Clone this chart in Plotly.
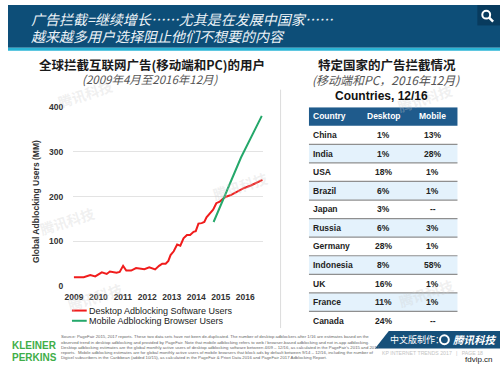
import plotly.graph_objects as go

W, H = 500, 372

# ---------------- data ----------------
desktop_years = [2009.00, 2009.40, 2009.67, 2009.87, 2010.14, 2010.34, 2010.47, 2010.74, 2010.87,
                 2011.01, 2011.14, 2011.34, 2011.54, 2011.74, 2011.88, 2012.08, 2012.21, 2012.32,
                 2012.48, 2012.61, 2012.75, 2012.86, 2012.95, 2013.08, 2013.22, 2013.35, 2013.48,
                 2013.62, 2013.75, 2013.89, 2013.98, 2014.09, 2014.22, 2014.33, 2014.42, 2014.56,
                 2014.69, 2014.82, 2014.96, 2015.09, 2015.22, 2015.43, 2015.69, 2015.96, 2016.23,
                 2016.50, 2016.71]
desktop_users = [20, 20, 25, 22, 31, 27.5, 33, 30, 32,
                 45.5, 35, 35, 40.5, 40, 38, 42, 40, 37.5,
                 45.5, 50.5, 50.5, 56.5, 69.5, 78, 93, 90.5, 107,
                 114.5, 114.5, 121.5, 123, 140, 141, 143.5, 154, 164,
                 171, 185.5, 189, 195.5, 200, 204, 212, 219.5, 225,
                 232, 237.5]
mobile_years = [2014.71, 2015.15, 2015.83, 2016.68]
mobile_users = [143.5, 200.5, 287.5, 380.5]
year_ticks = [2009, 2010, 2011, 2012, 2013, 2014, 2015, 2016]
user_ticks = [0, 100, 200, 300, 400]
series_names = ["Desktop Adblocking Software Users", "Mobile Adblocking Browser Users"]

table_header = ["Country", "Desktop", "Mobile"]
countries = ["China", "India", "USA", "Brazil", "Japan", "Russia", "Germany",
             "Indonesia", "UK", "France", "Canada"]
desktop_pct = ["1%", "1%", "18%", "6%", "3%", "6%", "28%", "8%", "16%", "11%", "24%"]
mobile_pct = ["13%", "28%", "1%", "1%", "--", "3%", "1%", "58%", "1%", "1%", "--"]

RED = "#f01c1c"
GREEN = "#25a86b"
CJK = "Noto Sans CJK SC"
SANS = "Liberation Sans, Arial, sans-serif"


def px(x):
    return x / W


def py(y):
    return 1 - y / H


fig = go.Figure()
fig.add_trace(go.Scatter(x=desktop_years, y=desktop_users, mode="lines", name=series_names[0],
                         line=dict(color=RED, width=2), xaxis="x", yaxis="y", showlegend=False))
fig.add_trace(go.Scatter(x=mobile_years, y=mobile_users, mode="lines", name=series_names[1],
                         line=dict(color=GREEN, width=2), xaxis="x", yaxis="y", showlegend=False))
# invisible anchor trace for the table axes
fig.add_trace(go.Scatter(x=[0.5], y=[0], mode="markers", marker=dict(opacity=0),
                         xaxis="x2", yaxis="y2", showlegend=False, hoverinfo="skip"))

shapes = []
ann = []

# ---------- header band ----------
shapes.append(dict(type="rect", xref="paper", yref="paper", x0=0, x1=1, y0=py(44), y1=1,
                   fillcolor="#0d4e78", line=dict(width=0), layer="below"))
shapes.append(dict(type="rect", xref="paper", yref="paper", x0=0, x1=1, y0=py(47), y1=py(44),
                   fillcolor="#2ab4d6", line=dict(width=0), layer="below"))
shapes.append(dict(type="rect", xref="paper", yref="paper", x0=px(477), x1=1, y0=py(21), y1=1,
                   fillcolor="#083b5e", line=dict(width=0)))
shapes.append(dict(type="circle", xref="paper", yref="paper", x0=px(482), x1=px(490),
                   y0=py(14), y1=py(6), line=dict(color="white", width=2)))
shapes.append(dict(type="line", xref="paper", yref="paper", x0=px(489), x1=px(493),
                   y0=py(13), y1=py(17), line=dict(color="white", width=2.5)))
ann.append(dict(text="广告拦截=继续增长……尤其是在发展中国家……", x=px(21), y=py(14),
                xanchor="left", yanchor="middle",
                font=dict(family=CJK, size=14, color="#eef3f7", style="italic")))
ann.append(dict(text="越来越多用户选择阻止他们不想要的内容", x=px(21), y=py(32),
                xanchor="left", yanchor="middle",
                font=dict(family=CJK, size=14, color="#eef3f7", style="italic")))

# ---------- faint watermarks ----------
for (wx, wy) in [(78, 91), (236, 186), (88, 300), (424, 96), (425, 296), (60, 222)]:
    ann.append(dict(text="腾讯科技", x=px(wx), y=py(wy), xanchor="center", yanchor="middle",
                    textangle=-18,
                    font=dict(family=CJK, size=14, color="rgba(205,205,205,0.3)", weight="bold")))

# ---------- left chart titles ----------
ann.append(dict(text="全球拦截互联网广告(移动端和PC)的用户", x=px(146), y=py(61.5),
                xanchor="center", yanchor="middle",
                font=dict(family=CJK, size=12.5, color="#1a1a1a", weight="bold")))
ann.append(dict(text="(2009年4月至2016年12月)", x=px(145), y=py(76.5),
                xanchor="center", yanchor="middle",
                font=dict(family=CJK, size=11.5, color="#555555", style="italic")))
ann.append(dict(text="Global Adblocking Users (MM)", x=px(28), y=py(202), textangle=-90,
                xanchor="center", yanchor="middle",
                font=dict(family=SANS, size=8.5, color="#333333", weight="bold")))

# legend
for i, (name, col) in enumerate(zip(series_names, [RED, GREEN])):
    yy = 314 + i * 10.5
    shapes.append(dict(type="line", xref="paper", yref="paper", x0=px(65), x1=px(80),
                       y0=py(yy), y1=py(yy), line=dict(color=col, width=2)))
    ann.append(dict(text=name, x=px(80.5), y=py(yy), xanchor="left", yanchor="middle",
                    font=dict(family=SANS, size=9, color="#1a1a1a")))

# divider
shapes.append(dict(type="line", xref="paper", yref="paper", x0=px(277), x1=px(277),
                   y0=py(87), y1=py(332), line=dict(color="#dcdcdc", width=1)))

# ---------- right side titles ----------
ann.append(dict(text="特定国家的广告拦截情况", x=px(385), y=py(61.5),
                xanchor="center", yanchor="middle",
                font=dict(family=CJK, size=12.5, color="#1a1a1a", weight="bold")))
ann.append(dict(text="(移动端和PC，2016年12月)", x=px(384.5), y=py(76.5),
                xanchor="center", yanchor="middle",
                font=dict(family=CJK, size=12, color="#555555", style="italic")))
ann.append(dict(text="Countries, 12/16", x=px(380), y=py(93),
                xanchor="center", yanchor="middle",
                font=dict(family=SANS, size=12, color="#111111", weight="bold")))

# ---------- table (drawn on x2/y2 axes) ----------
HEAD_FILL = "#1f5b8c"
ALT_FILL = "#e4f2fc"
col_x = [0.014, 0.502, 0.833]
col_anchor = ["left", "center", "center"]
shapes.append(dict(type="rect", xref="x2", yref="y2", x0=0, x1=1, y0=-1.5, y1=-0.5,
                   fillcolor=HEAD_FILL, line=dict(width=0), layer="below"))
for j, h in enumerate(table_header):
    ann.append(dict(text=h, xref="x2", yref="y2", x=col_x[j], y=-1, xanchor=col_anchor[j],
                    yanchor="middle", font=dict(family=SANS, size=8.5, color="white", weight="bold")))
for i, c in enumerate(countries):
    if i % 2 == 1:
        shapes.append(dict(type="rect", xref="x2", yref="y2", x0=0, x1=1, y0=i - 0.5, y1=i + 0.5,
                           fillcolor=ALT_FILL, line=dict(width=0), layer="below"))
    if i < len(countries) - 1:
        shapes.append(dict(type="line", xref="x2", yref="y2", x0=0, x1=1, y0=i + 0.5, y1=i + 0.5,
                           line=dict(color="#8f8f8f", width=1.2)))
    for j, v in enumerate([c, desktop_pct[i], mobile_pct[i]]):
        ann.append(dict(text=v, xref="x2", yref="y2", x=col_x[j], y=i, xanchor=col_anchor[j],
                        yanchor="middle",
                        font=dict(family=SANS, size=8.5, color="#222222", weight="bold")))

# ---------- footer ----------
ann.append(dict(text="KLEINER", x=px(2), y=py(350), xanchor="left", yanchor="middle",
                font=dict(family=SANS, size=10, color="#3fae49", weight="bold")))
ann.append(dict(text="PERKINS", x=px(2), y=py(362), xanchor="left", yanchor="middle",
                font=dict(family=SANS, size=10, color="#3fae49", weight="bold")))
source_lines = [
    "Source: PageFair 2015, 2017 reports. These two data sets have not been de-duplicated. The number of desktop adblockers after 1/16 are estimates based on the",
    "observed trend in desktop adblocking and provided by PageFair. Note that mobile adblocking refers to web / browser-based adblocking and not in-app adblocking.",
    "Desktop adblocking estimates are the global monthly active users of desktop adblocking software between 4/09 – 12/16, as calculated in the PageFair's 2015 and 2017",
    "reports.  Mobile adblocking estimates are for global monthly active users of mobile browsers that block ads by default between 9/14 – 12/16, including the number of",
    "Digicel subscribers in the Caribbean (added 10/15), as calculated in the PageFair & Priori Data 2016 and PageFair 2017 Adblocking Report.",
]
for k, line in enumerate(source_lines):
    ann.append(dict(text=line, x=px(52), y=py(341 + k * 5.4), xanchor="left", yanchor="middle",
                    font=dict(family=SANS, size=4.3, color="#666666")))

# banner
shapes.append(dict(type="path", xref="paper", yref="paper",
                   path=f"M {px(387)} {py(335)} L 1 {py(335)} L 1 {py(353)} L {px(373)} {py(353)} Z",
                   fillcolor="#16507a", line=dict(width=0)))
ann.append(dict(text="中文版制作：", x=px(386), y=py(344), xanchor="left", yanchor="middle",
                font=dict(family=CJK, size=9, color="white")))
shapes.append(dict(type="circle", xref="paper", yref="paper", x0=px(439), x1=px(448),
                   y0=py(348.5), y1=py(339.5), line=dict(color="white", width=2)))
ann.append(dict(text="腾讯科技", x=px(450), y=py(344), xanchor="left", yanchor="middle",
                font=dict(family=CJK, size=10.5, color="white", weight="bold", style="italic")))
ann.append(dict(text="KP INTERNET TRENDS 2017   |   PAGE 18", x=px(378), y=py(358),
                xanchor="left", yanchor="middle",
                font=dict(family=SANS, size=5.2, color="#c4c4c4")))
ann.append(dict(text="fdvip.cn", x=px(495), y=py(364), xanchor="right", yanchor="middle",
                font=dict(family=SANS, size=8, color="#222222")))

for a in ann:
    a.setdefault("xref", "paper")
    a.setdefault("yref", "paper")
    a["showarrow"] = False

x_left = 2009 - 1 / 24.86
fig.update_layout(
    width=W, height=H, margin=dict(l=0, r=0, t=0, b=0),
    paper_bgcolor="white", plot_bgcolor="white",
    xaxis=dict(domain=[px(66), px(259)], range=[x_left, x_left + 193 / 24.86],
               tickvals=year_ticks, ticktext=[str(v) for v in year_ticks],
               showgrid=False, zeroline=False, showline=False, ticks="outside", ticklen=3,
               tickcolor="white", tickfont=dict(family=SANS, size=8.5, color="#333333", weight="bold"),
               fixedrange=True),
    yaxis=dict(domain=[py(289), py(105)], range=[0, 400], tickvals=user_ticks,
               showgrid=True, gridcolor="#e3e3e3", gridwidth=1, zeroline=False, showline=False,
               ticks="outside", ticklen=7, tickcolor="white",
               tickfont=dict(family=SANS, size=8.5, color="#333333", weight="bold"), fixedrange=True),
    xaxis2=dict(domain=[px(305.7), px(457)], range=[0, 1], anchor="y2", visible=False, fixedrange=True),
    yaxis2=dict(domain=[py(334), py(105)], range=[10.5, -1.5], anchor="x2", visible=False, fixedrange=True),
    shapes=shapes, annotations=ann, showlegend=False,
)

fig.write_html("out.html", config={"displayModeBar": False},
               post_script="document.body.style.margin='0';document.body.style.overflow='hidden';")
